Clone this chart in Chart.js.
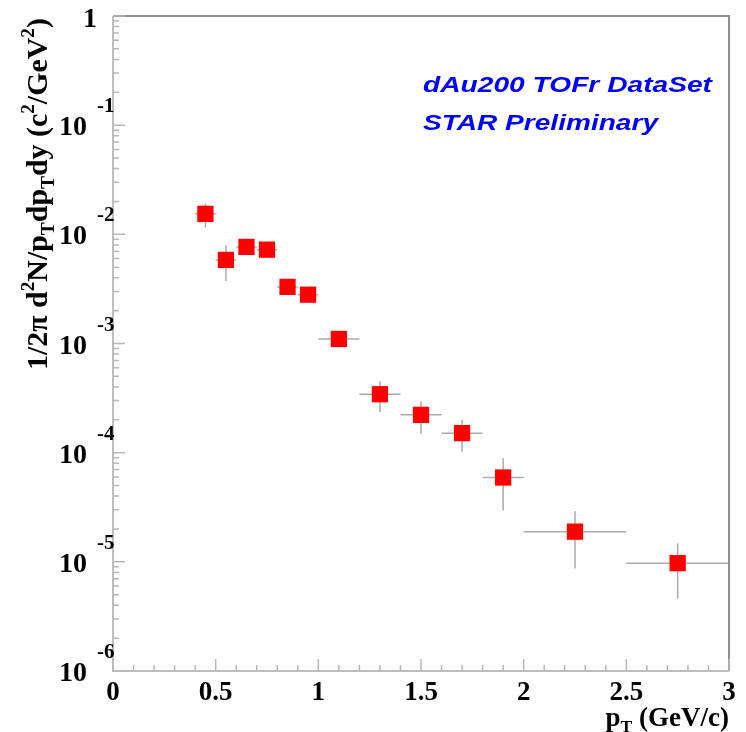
<!DOCTYPE html>
<html><head><meta charset="utf-8">
<script src="https://cdn.jsdelivr.net/npm/chart.js@4/dist/chart.umd.min.js"></script>
<style>html,body{margin:0;padding:0;background:#fff}canvas{display:block}</style>
</head><body>
<canvas id="c" width="746" height="732"></canvas>
<script>
// ---- data ----
const ptBinCenters    = [0.45, 0.55, 0.65, 0.75, 0.85, 0.95, 1.1, 1.3, 1.5, 1.7, 1.9, 2.25, 2.75];
const ptBinHalfWidths = [0.05, 0.05, 0.05, 0.05, 0.05, 0.05, 0.1, 0.1, 0.1, 0.1, 0.1, 0.25, 0.25];
const yieldValues     = [0.0154, 0.00583, 0.00767, 0.00724, 0.00330, 0.00280, 0.00110,
                         3.43e-4, 2.22e-4, 1.51e-4, 5.92e-5, 1.89e-5, 9.72e-6];
const yieldErrors     = [0.0038, 0.0021, 0.0007, 0.0007, 0.0003, 0.0003, 0.0001,
                         1.07e-4, 0.73e-4, 0.49e-4, 2.97e-5, 1.02e-5, 5.1e-6];
const xTickValues = [0, 0.5, 1, 1.5, 2, 2.5, 3];
const xTickLabels = ['0', '0.5', '1', '1.5', '2', '2.5', '3'];
const yDecadeExponents = [-1, -2, -3, -4, -5, -6];
const textLine1 = 'dAu200 TOFr DataSet';
const textLine2 = 'STAR Preliminary';

const SERIF = '"Liberation Serif", "Times New Roman", serif';
const SANS = '"Liberation Sans", Arial, sans-serif';

function drawRich(ctx, segs, x, y, base, measureOnly) {
  let cx = x;
  for (const s of segs) {
    const sz = base * (s.r || 1);
    ctx.font = 'bold ' + sz + 'px ' + SERIF;
    if (!measureOnly) ctx.fillText(s.t, cx, y + (s.dy || 0) * base);
    cx += ctx.measureText(s.t).width;
  }
  return cx - x;
}

const errorBarsPlugin = {
  id: 'errbars',
  beforeDatasetsDraw(chart) {
    const ctx = chart.ctx, xs = chart.scales.x, ys = chart.scales.y;
    ctx.save();
    ctx.strokeStyle = '#aaaaaa';
    ctx.lineWidth = 1.5;
    ptBinCenters.forEach((x, i) => {
      const px = xs.getPixelForValue(x), py = ys.getPixelForValue(yieldValues[i]);
      const x1 = xs.getPixelForValue(x - ptBinHalfWidths[i]);
      const x2 = xs.getPixelForValue(x + ptBinHalfWidths[i]);
      const y1 = ys.getPixelForValue(yieldValues[i] + yieldErrors[i]);
      const y2 = ys.getPixelForValue(Math.max(yieldValues[i] - yieldErrors[i], 1e-7));
      ctx.beginPath();
      ctx.moveTo(x1, py); ctx.lineTo(x2, py);
      ctx.moveTo(px, y1); ctx.lineTo(px, y2);
      ctx.stroke();
    });
    ctx.restore();
  }
};

const framePlugin = {
  id: 'frame',
  afterDatasetsDraw(chart) {
    const ctx = chart.ctx, xs = chart.scales.x, ys = chart.scales.y;
    const a = chart.chartArea;
    ctx.save();
    // frame top/right
    ctx.strokeStyle = '#8f8f8f'; ctx.lineWidth = 2;
    ctx.beginPath();
    ctx.moveTo(a.left, a.top); ctx.lineTo(a.right, a.top); ctx.lineTo(a.right, a.bottom);
    ctx.stroke();
    // axes
    ctx.strokeStyle = '#bdbdbd'; ctx.lineWidth = 2;
    ctx.beginPath();
    ctx.moveTo(a.left, a.top); ctx.lineTo(a.left, a.bottom); ctx.lineTo(a.right, a.bottom);
    ctx.stroke();
    // ticks
    ctx.strokeStyle = '#b8b8b8'; ctx.lineWidth = 1.5;
    ctx.beginPath();
    for (let k = -6; k <= 0; k++) {
      const pm = ys.getPixelForValue(Math.pow(10, k));
      ctx.moveTo(a.left, pm); ctx.lineTo(a.left + 12, pm);
      if (k < 0) for (let m = 2; m <= 9; m++) {
        const p = ys.getPixelForValue(m * Math.pow(10, k));
        ctx.moveTo(a.left, p); ctx.lineTo(a.left + 6, p);
      }
    }
    for (let i = 0; i <= 30; i++) {
      const p = xs.getPixelForValue(i / 10);
      ctx.moveTo(p, a.bottom); ctx.lineTo(p, a.bottom - (i % 5 === 0 ? 12 : 6));
    }
    ctx.stroke();

    // y tick labels
    ctx.fillStyle = '#000';
    ctx.textBaseline = 'alphabetic';
    const p1 = ys.getPixelForValue(1);
    ctx.font = 'bold 28px ' + SERIF; ctx.textAlign = 'right';
    ctx.fillText('1', 97, p1 + 11);
    yDecadeExponents.forEach(e => {
      const p = ys.getPixelForValue(Math.pow(10, e));
      ctx.font = 'bold 28px ' + SERIF; ctx.textAlign = 'right';
      ctx.fillText('10', 87, p + 10);
      ctx.font = 'bold 21px ' + SERIF; ctx.textAlign = 'left';
      ctx.fillText(String(e), 97, p - 13);
    });
    // x tick labels
    ctx.font = 'bold 27px ' + SERIF; ctx.textAlign = 'center';
    xTickValues.forEach((v, i) => {
      ctx.fillText(xTickLabels[i], xs.getPixelForValue(v), 700);
    });
    // x title
    ctx.textAlign = 'left';
    const xsegs = [{t:'p'}, {t:'T', r:0.65, dy:0.22}, {t:' (GeV/c)'}];
    const xw = drawRich(ctx, xsegs, 0, 0, 27, true);
    drawRich(ctx, xsegs, 729 - xw, 726, 27, false);
    // y title (rotated)
    const ysegs = [{t:'1/2\u03c0 d'}, {t:'2', r:0.65, dy:-0.42}, {t:'N/p'}, {t:'T', r:0.65, dy:0.22},
                   {t:'dp'}, {t:'T', r:0.65, dy:0.22}, {t:'dy (c'}, {t:'2', r:0.65, dy:-0.42},
                   {t:'/GeV'}, {t:'2', r:0.65, dy:-0.42}, {t:')'}];
    const w0 = drawRich(ctx, ysegs, 0, 0, 26, true);
    const ysz = 26 * 352 / w0;
    ctx.save();
    ctx.translate(47, 370);
    ctx.rotate(-Math.PI / 2);
    drawRich(ctx, ysegs, 0, 0, ysz, false);
    ctx.restore();

    // blue labels
    ctx.fillStyle = '#0000ff';
    ctx.textAlign = 'left';
    ctx.font = 'italic bold 22px ' + SANS;
    const w1 = ctx.measureText(textLine1).width;
    ctx.save(); ctx.translate(423, 92); ctx.scale(289 / w1, 1); ctx.fillText(textLine1, 0, 0); ctx.restore();
    const w2 = ctx.measureText(textLine2).width;
    ctx.save(); ctx.translate(423, 130); ctx.scale(235 / w2, 1); ctx.fillText(textLine2, 0, 0); ctx.restore();
    ctx.restore();
  }
};

new Chart(document.getElementById('c'), {
  type: 'scatter',
  data: {
    datasets: [{
      data: ptBinCenters.map((x, i) => ({x: x, y: yieldValues[i]})),
      pointStyle: 'rect',
      pointRadius: 11.5,
      pointHoverRadius: 11.5,
      backgroundColor: '#ff0000',
      borderColor: '#ff0000',
      borderWidth: 0,
      clip: false
    }]
  },
  options: {
    responsive: false,
    animation: false,
    events: [],
    layout: { padding: { left: 113, top: 16, right: 17, bottom: 61 } },
    plugins: { legend: { display: false }, tooltip: { enabled: false } },
    scales: {
      x: { type: 'linear', min: 0, max: 3, display: false },
      y: { type: 'logarithmic', min: 1e-6, max: 1, display: false }
    }
  },
  plugins: [errorBarsPlugin, framePlugin]
});
</script>
</body></html>
